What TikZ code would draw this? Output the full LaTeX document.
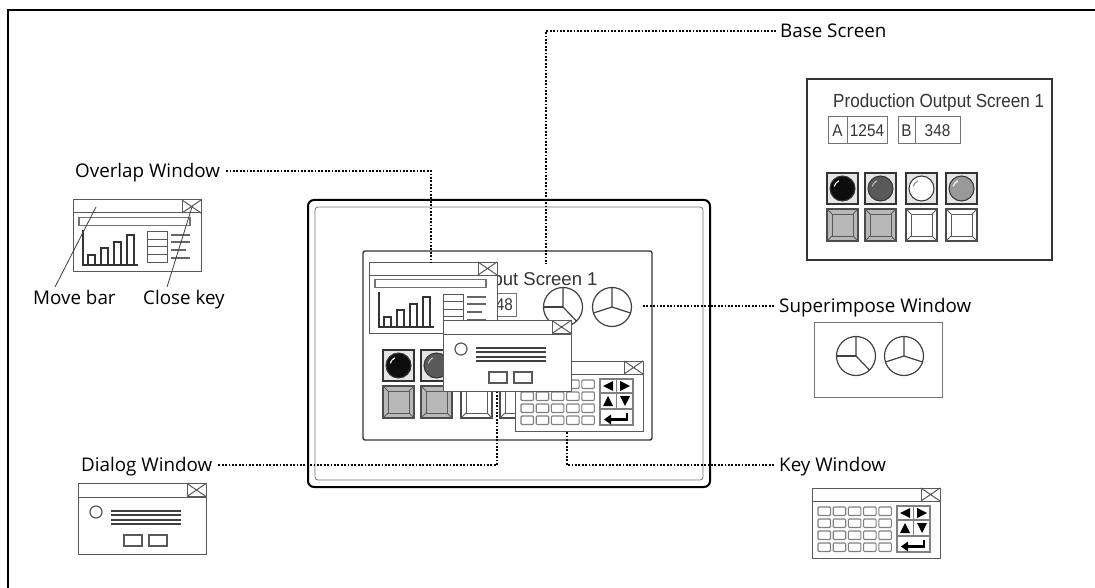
\documentclass[tikz,border=0pt]{standalone}
\usepackage{fontspec}
\setmainfont{Open Sans}
\newfontfamily\panelfont[FakeStretch=0.9]{Liberation Sans}
\newfontfamily\devfont{Liberation Sans}

% small window "close" box with a cross
\newcommand\xbox[2]{%
  \draw[wl] (#1,#2) rectangle ++(19,13);
  \draw[wl] (#1,#2) -- ++(19,13) (#1,#2+13) -- ++(19,-13);}

% lamp: x, y, lamp colour, highlight colour
\newcommand\lampbtn[4]{%
  \draw[line width=1.3pt, draw=black!80, fill=black!10] (#1,#2) rectangle ++(31,31);
  \draw[line width=1pt, draw=black!80, fill=#3] (#1+15.5,#2+15.5) circle (12.5);
  \draw[line width=1.1pt, #4] (#1+15.5,#2+15.5) ++(-165:8.5) arc[start angle=-165, end angle=-115, radius=8.5];}

% bevelled push button: x, y, face colour
\newcommand\bevelbtn[3]{%
  \draw[line width=1.1pt, draw=black!70, fill=#3] (#1,#2) rectangle ++(31,32);
  \draw[line width=0.9pt, draw=black!65] (#1+5,#2+5) rectangle (#1+26,#2+27);
  \draw[line width=0.8pt, black!65] (#1,#2) -- (#1+5,#2+5) (#1+31,#2) -- (#1+26,#2+5)
        (#1,#2+32) -- (#1+5,#2+27) (#1+31,#2+32) -- (#1+26,#2+27);}

% pie charts: centre x, y
\newcommand\pieone[2]{%
  \draw[pieline] (#1,#2) circle (19.5);
  \draw[pieline] (#1,#2-19.5) -- (#1,#2) -- (#1+13.5,#2+14);
  \draw[pieline, line width=2pt] (#1-19.5,#2) -- (#1,#2);}
\newcommand\pietwo[2]{%
  \draw[pieline] (#1,#2) circle (19.5);
  \draw[pieline] (#1,#2-19.5) -- (#1,#2) -- (#1-18.5,#2+6) (#1,#2) -- (#1+18.5,#2+6);}

\tikzset{
  wl/.style={draw=black!65, line width=1pt},
  chart/.style={draw=black!80, line width=1.4pt},
  pieline/.style={draw=black!75, line width=1.2pt},
  overlapwin/.pic={
    \draw[wl, fill=white] (0,0) rectangle (128,71);
    \draw[wl] (0,13) -- (128,13);
    \xbox{109}{0}
    \draw[draw=black!55, line width=1.8pt] (6,17.5) rectangle (117,25.5);
    \draw[chart] (10,30) -- (10,65) -- (65,65);
    \draw[chart] (15,65) |- (22,55) -- (22,65)
                 (28,65) |- (35,48) -- (35,65)
                 (41,65) |- (48,42) -- (48,65)
                 (54,65) |- (61,35) -- (61,65);
    \draw[wl] (74,32) rectangle (94,62) (74,39.5) -- (94,39.5) (74,47) -- (94,47) (74,54.5) -- (94,54.5);
    \draw[draw=black!60, line width=1.6pt] (98,35) -- (117,35) (98,42) -- (117,42)
         (98,50) -- (113,50) (98,58) -- (117,58);
  },
  dialogwin/.pic={
    \draw[wl, fill=white] (0,0) rectangle (128,71);
    \draw[wl] (0,14) -- (128,14);
    \xbox{109}{0.5}
    \draw[wl, line width=1.2pt] (18,29) circle (6);
    \draw[draw=black!75, line width=1.4pt] (33,28) -- (103,28) (33,32) -- (103,32)
         (33,37) -- (103,37) (33,41) -- (103,41);
    \draw[wl, line width=1.3pt] (46,52) rectangle (64,63) (71,52) rectangle (89,63);
  },
  keywin/.pic={
    \draw[wl, fill=white] (0,0) rectangle (128,70);
    \draw[wl] (0,13) -- (128,13);
    \xbox{109}{0}
    \foreach \i in {0,...,4}
      \foreach \j in {0,...,3}
        \draw[wl, draw=black!50, line width=1.1pt, rounded corners=1pt]
          ({6+15.2*\i},{19+12*\j}) rectangle ++(12.5,8.5);
    \draw[wl, draw=black!50, line width=1.2pt] (85,18) rectangle (118,64)
         (85,32) -- (118,32) (85,48) -- (118,48) (101.5,18) -- (101.5,48);
    \fill[black] (88,25) -- (98,20) -- (98,30) -- cycle;
    \fill[black] (115,25) -- (105,20) -- (105,30) -- cycle;
    \fill[black] (93,35) -- (88,45) -- (98,45) -- cycle;
    \fill[black] (110,45) -- (105,35) -- (115,35) -- cycle;
    \fill[black] (89,58.5) -- (96,53.5) -- (96,63.5) -- cycle;
    \draw[black, line width=2.2pt] (95,58.5) -- (112,58.5) -- (112,51.5);
  },
}

\begin{document}
\begin{tikzpicture}[x=1pt, y=-1pt,
  callout/.style={font=\fontsize{18.8}{18.8}\selectfont, inner sep=0pt, text height=13.4pt, text depth=0pt},
  leader/.style={line width=2.8pt, dash pattern=on 1.8pt off 1.6pt, black},
  pointer/.style={line width=0.8pt, black!75},
  scrtext/.style={font=\panelfont\fontsize{19}{19}\selectfont, inner sep=0pt, text=black!80},
  devtext/.style={font=\devfont\fontsize{18.5}{18.5}\selectfont, inner sep=0pt, text=black!80},
  valtext/.style={font=\panelfont\fontsize{17}{17}\selectfont, inner sep=0pt, text=black!80},
  valbox/.style={draw=black!55, line width=1pt},
]
\useasboundingbox (0,0) rectangle (1095,588);

% page frame
\draw[line width=2.2pt] (8,588) -- (8,10) -- (1095,10);

% ---------- base screen panel (top right) ----------
\draw[draw=black!80, line width=1.4pt] (807,79) rectangle (1052,260);
\node[scrtext, anchor=base west] (tTitle) at (833,108) {Production Output Screen 1};
\draw[valbox] (828,117) rectangle (887,144) (847,117) -- (847,144);
\draw[valbox] (898,117) rectangle (960,144) (915,117) -- (915,144);
\node[valtext] (tA) at (837.5,131) {A};
\node[valtext] (tAv) at (867,131) {1254};
\node[valtext] (tB) at (906.5,131) {B};
\node[valtext] (tBv) at (937.5,131) {348};
\lampbtn{827}{173}{black!95}{white}
\lampbtn{865}{173}{black!65}{black!25}
\lampbtn{906}{173}{white}{black!45}
\lampbtn{946}{173}{black!40}{white}
\bevelbtn{827}{209}{black!28}
\bevelbtn{865}{209}{black!28}
\bevelbtn{906}{209}{white}
\bevelbtn{946}{209}{white}

% ---------- superimpose window sample ----------
\draw[draw=black!55, line width=1pt] (814,322) rectangle (942,397);
\pieone{856}{356}
\pietwo{904}{356}

% ---------- window samples ----------
\pic at (73,200) {overlapwin};
\pic at (78,483) {dialogwin};
\pic at (812,488) {keywin};

% ---------- device ----------
\draw[line width=2pt, rounded corners=6pt] (308,200) rectangle (710,487);
\draw[line width=0.8pt, black!55, rounded corners=3pt] (315,207) rectangle (703,480);
\draw[line width=1.4pt, black!80, rounded corners=2pt] (363,251) rectangle (652,440);

% base screen contents on the device
\node[devtext, anchor=base west] (dTitle) at (369,285) {Production Output Screen 1};
\draw[valbox] (384,293) rectangle (446,316) (402,293) -- (402,316);
\draw[valbox] (452,293) rectangle (516,316) (469,293) -- (469,316);
\node[valtext, anchor=east] (dBv) at (513,305) {348};
\pieone{563}{307}
\pietwo{612}{307}
\lampbtn{383}{350}{black!95}{white}
\lampbtn{421}{350}{black!65}{black!25}
\lampbtn{461}{350}{white}{black!45}
\lampbtn{500}{350}{black!40}{white}
\bevelbtn{383}{386}{black!28}
\bevelbtn{421}{386}{black!28}
\bevelbtn{461}{386}{white}
\bevelbtn{500}{386}{white}

% overlaid windows
\pic at (369,262) {overlapwin};
\pic at (515,361) {keywin};
\pic at (443,320) {dialogwin};

% ---------- callouts ----------
\node[callout, anchor=west] (lBase) at (780,31) {Base Screen};
\node[callout, anchor=west] (lOver) at (75,171) {Overlap Window};
\node[callout, anchor=west] (lSup) at (779,306) {Superimpose Window};
\node[callout, anchor=west] (lDlg) at (81,465) {Dialog Window};
\node[callout, anchor=west] (lKey) at (779,465) {Key Window};
\node[callout, anchor=west] (lMove) at (33,298) {Move bar};
\node[callout, anchor=west] (lClose) at (143,298) {Close key};

\coordinate (cBaseTurn) at (546,31);
\coordinate (cBaseEnd) at (546,264);
\coordinate (cOverTurn) at (431,171);
\coordinate (cOverEnd) at (431,262);
\coordinate (cSupEnd) at (643,306);
\coordinate (cDlgTurn) at (497,465);
\coordinate (cDlgEnd) at (497,392);
\coordinate (cKeyTurn) at (567,465);
\coordinate (cKeyEnd) at (567,432);

\draw[leader, shorten <=4pt] (lBase.west) -- (cBaseTurn) -- (cBaseEnd);
\draw[leader, shorten <=6pt] (lOver.east) -- (cOverTurn) -- (cOverEnd);
\draw[leader, shorten >=5pt] (cSupEnd) -- (lSup.west);
\draw[leader, shorten <=6pt] (lDlg.east) -- (cDlgTurn) -- (cDlgEnd);
\draw[leader, shorten <=5pt] (lKey.west) -- (cKeyTurn) -- (cKeyEnd);

\coordinate (cMoveTip) at (96,207);
\coordinate (cMoveFoot) at (55,287);
\coordinate (cCloseTip) at (192,207);
\coordinate (cCloseFoot) at (167,287);
\draw[pointer] (cMoveTip) -- (cMoveFoot);
\draw[pointer] (cCloseTip) -- (cCloseFoot);
\end{tikzpicture}
\end{document}
